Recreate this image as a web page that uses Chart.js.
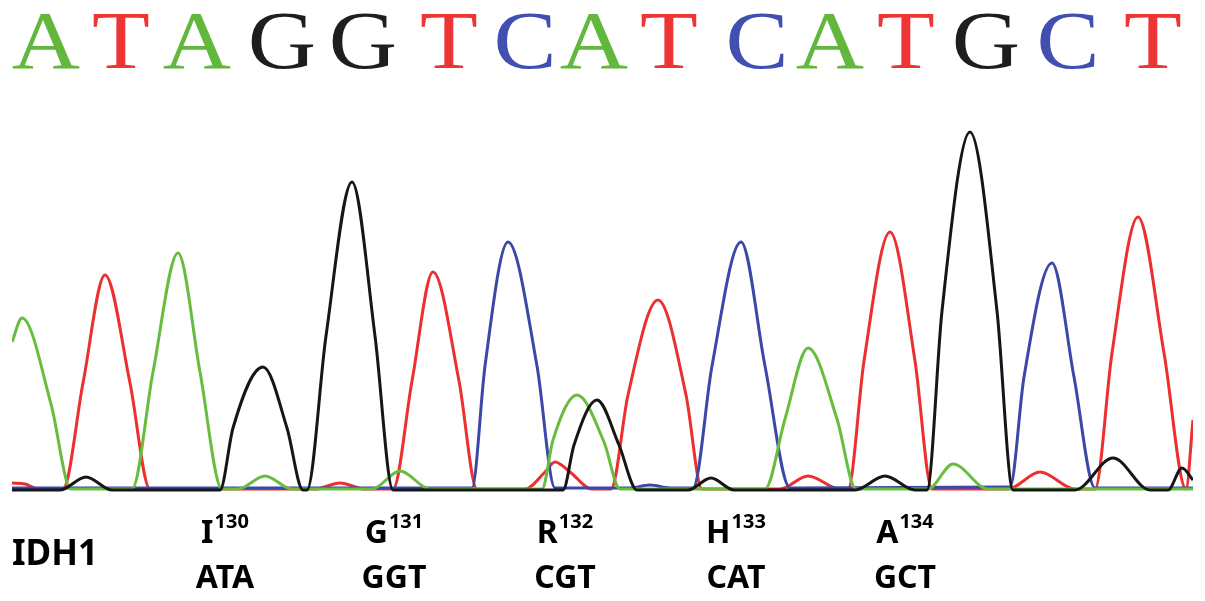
<!DOCTYPE html>
<html>
<head>
<meta charset="utf-8">
<title>IDH1 chromatogram</title>
<script src="https://cdn.jsdelivr.net/npm/chart.js@4/dist/chart.umd.min.js"></script>
<style>
    body { margin: 0; background: #ffffff; }
    canvas { display: block; }
</style>
</head>
<body>
<canvas id="chart" width="1205" height="601"></canvas>
<script>
// base calls and their position on the scan axis
var bases = ['A', 'T', 'A', 'G', 'G', 'T', 'C', 'A', 'T', 'C', 'A', 'T', 'G', 'C', 'T'];
var callPos = [46, 121, 197, 282, 363, 449, 525, 594, 669, 757, 830, 906, 986, 1068, 1153];

// codons under the trace
var residues = ['I', 'G', 'R', 'H', 'A'];
var residueNumbers = [130, 131, 132, 133, 134];
var codons = ['ATA', 'GGT', 'CGT', 'CAT', 'GCT'];
var geneName = 'IDH1';

// traces: [scan position, signal]
var traceA = [[12,148],[22,172],[51,86],[71,1],[132,1],[153,118],[178,237],[200,118],[222,1],[238,1],[265,14],[292,1],[372,1],[400,19],[430,1],[542,1],[553,50],[577,95],[604,48],[620,1],[765,1],[785,71],[808,142],[837,71],[856,1],[928,1],[953,26],[988,1],[1193,1]];
var traceT = [[12,7],[25,6],[38,1],[63,1],[83,107],[105,215],[130,107],[150,1],[315,1],[340,7],[365,1],[393,1],[412,109],[433,218],[459,109],[477,1],[525,1],[545,18],[555,28],[570,18],[592,1],[611,1],[628,95],[658,190],[686,95],[702,1],[780,1],[808,14],[840,1],[848,1],[864,129],[890,258],[915,129],[932,1],[1008,1],[1040,18],[1075,1],[1095,1],[1112,137],[1138,273],[1164,137],[1186,1],[1193,70]];
var traceG = [[12,0],[60,0],[86,13],[112,0],[220,0],[233,62],[263,123],[287,62],[303,0],[307,0],[326,154],[352,308],[375,154],[393,0],[563,0],[574,45],[597,90],[619,45],[637,0],[688,0],[711,12],[734,0],[855,0],[885,14],[915,0],[927,0],[942,179],[970,358],[997,179],[1013,0],[1075,0],[1113,32],[1150,0],[1168,0],[1182,22],[1193,10]];
var traceC = [[12,2],[472,2],[485,124],[508,248],[537,124],[555,2],[630,2],[650,5],[670,2],[693,2],[712,124],[741,248],[765,124],[790,2],[1010,3],[1024,113],[1052,227],[1074,113],[1095,2],[1193,2]];

var lineColors = { A: '#68bd3f', T: '#ec2f2f', G: '#161616', C: '#3b48a8' };
var letterColors = { A: '#62b83c', T: '#ee3434', G: '#1e1e1e', C: '#4150b0' };

function toPoints(trace)
{
    var pts = [];
    for (var i = 0; i < trace.length; i++) {
        pts.push({ x: trace[i][0], y: trace[i][1] });
    }
    return pts;
}

function makeDataset(base, trace)
{
    return {
        label: base,
        data: toPoints(trace),
        borderColor: lineColors[base],
        borderWidth: 3,
        pointRadius: 0,
        fill: false,
        cubicInterpolationMode: 'monotone'
    };
}

// letters on top and codon labels below
var labelsPlugin = {
    id: 'labels',
    afterDraw: function(chart) {
        var ctx = chart.ctx;
        var xScale = chart.scales.x;
        ctx.save();

        // base calls
        ctx.font = '83px "Liberation Serif"';
        ctx.textAlign = 'center';
        ctx.textBaseline = 'alphabetic';
        for (var i = 0; i < bases.length; i++) {
            ctx.save();
            ctx.translate(xScale.getPixelForValue(callPos[i]), 68);
            ctx.scale(1.14, 1);
            ctx.fillStyle = letterColors[bases[i]];
            ctx.fillText(bases[i], 0, 0);
            ctx.restore();
        }

        ctx.fillStyle = '#000000';
        ctx.textAlign = 'left';
        ctx.font = 'bold 35px "Noto Sans"';
        ctx.fillText(geneName, 12, 565);

        var centers = [225, 394, 565, 736, 905];
        for (var j = 0; j < codons.length; j++) {
            var cx = xScale.getPixelForValue(centers[j]);

            ctx.font = 'bold 32px "Noto Sans"';
            var w1 = ctx.measureText(residues[j]).width;
            ctx.font = 'bold 20px "Noto Sans"';
            var w2 = ctx.measureText(String(residueNumbers[j])).width;
            var left = cx - (w1 + w2 + 1) / 2;

            ctx.font = 'bold 32px "Noto Sans"';
            ctx.fillText(residues[j], left, 543);
            ctx.font = 'bold 20px "Noto Sans"';
            ctx.fillText(String(residueNumbers[j]), left + w1 + 1, 528);

            ctx.font = 'bold 32px "Noto Sans"';
            ctx.textAlign = 'center';
            ctx.fillText(codons[j], cx, 588);
            ctx.textAlign = 'left';
        }

        ctx.restore();
    }
};

var chart = new Chart(document.getElementById('chart'), {
    type: 'line',
    data: {
        datasets: [
            makeDataset('G', traceG),
            makeDataset('A', traceA),
            makeDataset('C', traceC),
            makeDataset('T', traceT)
        ]
    },
    options: {
        responsive: false,
        animation: false,
        devicePixelRatio: 1,
        layout: {
            padding: { left: 12, right: 12, top: 93, bottom: 108 }
        },
        scales: {
            x: { type: 'linear', min: 12, max: 1193, display: false },
            y: { min: -3, max: 397, display: false }
        },
        plugins: {
            legend: { display: false },
            tooltip: { enabled: false }
        }
    },
    plugins: [labelsPlugin]
});
</script>
</body>
</html>
